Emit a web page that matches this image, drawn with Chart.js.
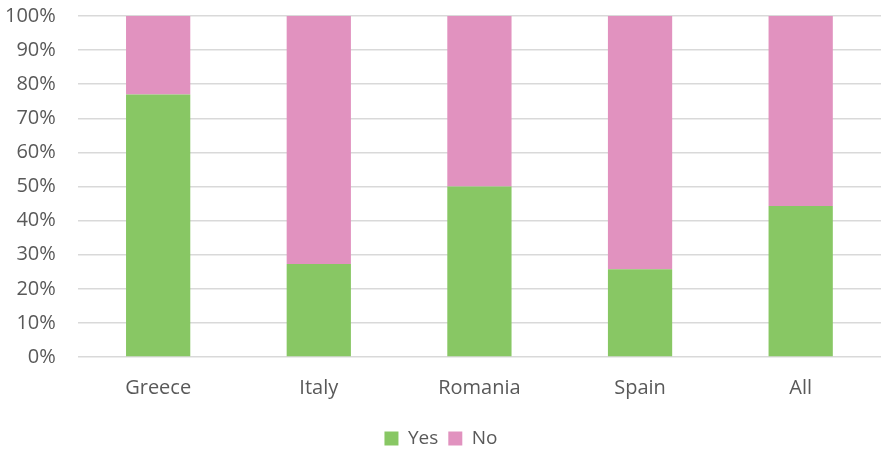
<!DOCTYPE html>
<html><head><meta charset="utf-8">
<script src="https://cdn.jsdelivr.net/npm/chart.js@4"></script>
<style>html,body{margin:0;padding:0;background:#fff;}#wrap{width:881px;height:449px;}</style>
</head><body><div id="wrap"><canvas id="c" width="881" height="449"></canvas></div>
<script>
const categories = ["Greece", "Italy", "Romania", "Spain", "All"];
const yesValues = [77, 27.3, 50, 25.7, 44.3];
const noValues = [23, 72.7, 50, 74.3, 55.7];
const yTicks = [0, 10, 20, 30, 40, 50, 60, 70, 80, 90, 100];

Chart.defaults.font.family = "'Open Sans', 'Liberation Sans', sans-serif";
new Chart(document.getElementById('c'), {
  type: 'bar',
  data: {
    labels: categories,
    datasets: [
      { label: 'Yes', data: yesValues, backgroundColor: '#88C764', categoryPercentage: 1, barPercentage: 0.4 },
      { label: 'No', data: noValues, backgroundColor: '#E192BF', categoryPercentage: 1, barPercentage: 0.4 }
    ]
  },
  options: {
    responsive: false,
    animation: false,
    layout: { padding: { top: 0, right: 0, left: 1, bottom: -9 } },
    plugins: {
      legend: {
        position: 'bottom',
        labels: { boxWidth: 14, boxHeight: 14, color: '#595959', font: { size: 19 }, padding: 10 }
      },
      tooltip: { enabled: false }
    },
    scales: {
      x: {
        stacked: true,
        grid: { display: false, drawTicks: false },
        border: { display: false },
        ticks: { color: '#595959', font: { size: 20 }, padding: 19 }
      },
      y: {
        stacked: true,
        min: 0, max: 100,
        afterBuildTicks: (ax) => { ax.ticks = yTicks.map(v => ({ value: v })); },
        grid: { color: '#d9d9d9', lineWidth: 1.5, drawTicks: true, tickLength: 18, tickColor: 'rgba(0,0,0,0)' },
        border: { display: false },
        ticks: { color: '#595959', font: { size: 20 }, padding: 4, callback: v => v + '%' }
      }
    }
  }
});
</script></body></html>
